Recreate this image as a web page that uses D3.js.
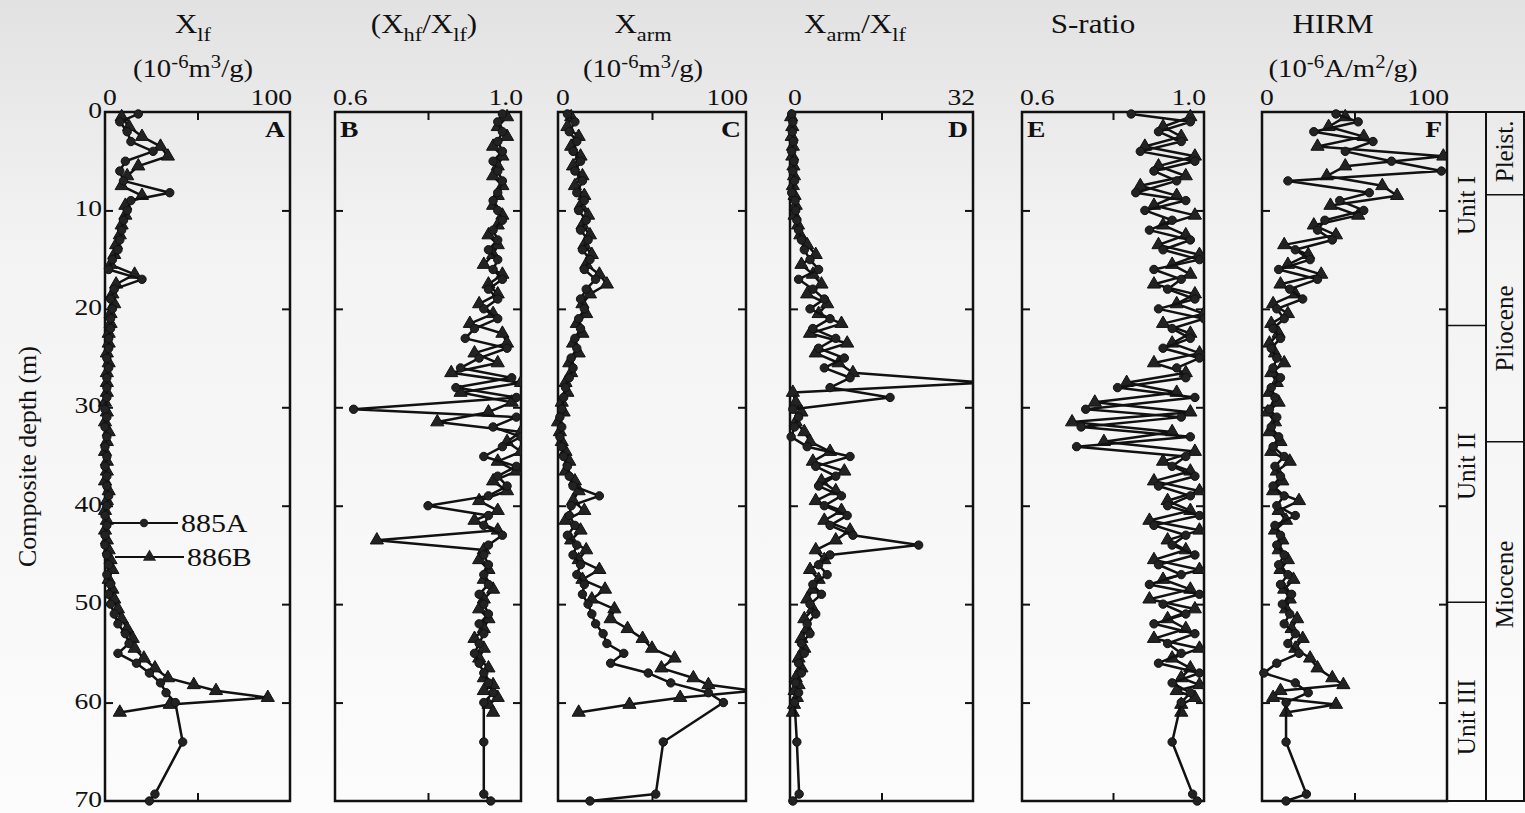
<!DOCTYPE html>
<html>
<head>
<meta charset="utf-8">
<script src="https://cdn.jsdelivr.net/npm/d3@7"></script>
<style>
  body { margin: 0; background: #fff; }
  svg text { font-family: "Liberation Serif", "Times New Roman", serif; fill: #111; }
</style>
</head>
<body>
<svg id="chart" width="1525" height="813"></svg>
<script>
// ---- data (depth in m) ----
var seriesNames = ['885A', '886B'];

var depth885 = [0.2, 1, 2, 3, 4, 5, 6, 7, 8.2, 9,
  10, 11, 12, 13, 14, 15, 16, 17, 18, 19,
  20, 21, 22, 23, 24, 25, 26, 27, 28, 29,
  30.2, 31, 32, 33, 34, 35, 36, 37, 38, 39,
  40, 41, 42, 43, 44, 45, 46, 47, 48, 49,
  50, 51, 52, 53, 54, 55, 56, 57, 58, 59,
  60, 64, 69.3, 70];

var depth886 = [0.5, 1.5, 2.5, 3.5, 4.5, 5.5, 6.5, 7.5, 8.5, 9.5,
  10.5, 11.5, 12.5, 13.5, 14.5, 15.5, 16.5, 17.5, 18.5, 19.5,
  20.5, 21.5, 22.5, 23.5, 24.5, 25.5, 26.5, 27.5, 28.5, 29.5,
  30.5, 31.5, 32.5, 33.5, 34.5, 35.5, 36.5, 37.5, 38.5, 39.5,
  40.5, 41.5, 42.5, 43.5, 44.5, 45.5, 46.5, 47.5, 48.5, 49.5,
  50.5, 51.5, 52.5, 53.5, 54.5, 55.5, 56.5, 57.5, 58.2, 58.8,
  59.5, 60.2, 61];

// A: Xlf
var xlf885 = [18, 8, 12, 14, 26, 11, 8, 10, 35, 14,
  12, 10, 9, 8, 7, 4, 2, 20, 5, 3,
  4, 3, 3, 2, 2, 1, 2, 1, 1, 1,
  0, 1, 0, 1, 0, 1, 0, 1, 1, 2,
  1, 0, 1, 0, 0, 1, 2, 1, 3, 2,
  3, 5, 7, 11, 13, 7, 17, 24, 30, 33,
  38, 42, 27, 24];
var xlf886 = [9, 13, 20, 30, 34, 18, 12, 9, 20, 11,
  11, 9, 8, 6, 5, 3, 16, 6, 4, 5,
  3, 3, 2, 2, 1, 2, 1, 1, 1, 0,
  1, 0, 2, 1, 0, 1, 1, 0, 2, 1,
  0, 1, 0, 1, 2, 3, 4, 2, 4, 5,
  7, 9, 12, 15, 16, 21, 27, 34, 48, 60,
  88, 35, 8];

// B: Xhf/Xlf
var hf885 = [0.96, 0.95, 0.96, 0.95, 0.96, 0.94, 0.95, 0.96, 0.95, 0.94,
  0.95, 0.96, 0.94, 0.95, 0.93, 0.95, 0.94, 0.96, 0.93, 0.95,
  0.92, 0.95, 0.90, 0.88, 0.97, 0.91, 0.87, 0.98, 0.86, 0.99,
  0.64, 0.99, 0.94, 1.0, 0.96, 0.92, 0.99, 0.95, 0.97, 0.93,
  0.80, 0.93, 0.92, 0.96, 0.93, 0.92, 0.93, 0.92, 0.93, 0.91,
  0.92, 0.93, 0.91, 0.92, 0.91, 0.90, 0.91, 0.92, 0.93, 0.94,
  0.92, 0.92, 0.92, 0.935];
var hf886 = [0.97, 0.95, 0.97, 0.94, 0.96, 0.95, 0.94, 0.96, 0.95, 0.94,
  0.96, 0.95, 0.93, 0.95, 0.94, 0.92, 0.96, 0.93, 0.95, 0.91,
  0.94, 0.89, 0.96, 0.97, 0.90, 0.95, 0.85, 1.0, 0.87, 0.98,
  0.93, 0.82, 1.0, 0.97, 1.0, 0.95, 0.99, 0.94, 0.97, 0.91,
  0.95, 0.90, 0.95, 0.69, 0.92, 0.91, 0.93, 0.92, 0.94, 0.92,
  0.91, 0.93, 0.92, 0.90, 0.92, 0.91, 0.93, 0.92, 0.94, 0.92,
  0.95, 0.93, 0.94];

// C: Xarm
var arm885 = [5, 9, 6, 10, 8, 12, 9, 13, 10, 14,
  11, 15, 12, 16, 13, 17, 14, 20, 15, 12,
  14, 11, 12, 9, 10, 7, 8, 6, 4, 3,
  2, 1, 2, 1, 2, 3, 5, 6, 8, 22,
  7, 6, 9, 5, 10, 8, 12, 10, 14, 13,
  16, 18, 20, 24, 26, 35, 28, 48, 60, 80,
  88, 56, 52, 17];
var arm886 = [7, 5, 11, 7, 12, 8, 13, 9, 14, 12,
  16, 13, 17, 14, 18, 15, 22, 26, 17, 13,
  15, 10, 13, 8, 11, 6, 7, 4, 5, 2,
  3, 0, 1, 2, 4, 6, 4, 9, 11, 8,
  14, 4, 12, 7, 15, 11, 22, 13, 25, 18,
  30, 28, 37, 45, 50, 62, 55, 72, 80, 104,
  65, 38, 11];

// D: Xarm/Xlf
var ratio885 = [0.3, 0.5, 0.4, 0.6, 0.3, 0.7, 0.5, 0.8, 0.3, 0.9,
  1.0, 1.2, 1.5, 2.0, 2.5, 3.5, 5.0, 1.5, 4.0, 6.0,
  3.5, 7.0, 4.0, 8.0, 5.0, 9.5, 6.0, 10.5, 7.0, 17.5,
  0.5, 1.5, 0.8, 0.2, 3.0, 10.5, 4.5, 8.0, 5.0, 9.0,
  6.0, 10.0, 7.0, 11.0, 22.5, 7.0, 5.0, 6.5, 4.0, 5.5,
  3.5, 4.5, 3.0, 3.5, 2.0, 2.5, 1.5, 2.0, 1.0, 1.5,
  0.8, 1.2, 1.6, 0.5];
var ratio886 = [0.2, 0.4, 0.3, 0.5, 0.4, 0.6, 0.7, 0.5, 0.8, 1.0,
  0.8, 1.4, 1.8, 3.0, 4.5, 2.0, 4.0, 5.5, 3.0, 6.5,
  5.0, 9.0, 3.5, 10.0, 4.5, 8.5, 11.0, 34, 0.5, 1.0,
  2.0, 1.0, 2.5, 3.5, 7.0, 4.0, 9.5, 5.5, 8.0, 4.5,
  9.0, 6.0, 10.5, 8.0, 4.5, 6.0, 3.5, 5.0, 4.0, 3.0,
  4.0, 2.5, 3.0, 2.0, 2.5, 1.5, 2.0, 1.0, 1.5, 0.8,
  1.2, 0.7, 0.5];

// E: S-ratio
var sratio885 = [0.84, 0.97, 0.90, 0.95, 0.86, 0.98, 0.89, 0.94, 0.85, 0.96,
  0.87, 0.93, 0.88, 0.97, 0.91, 0.99, 0.89, 0.95, 0.92, 0.98,
  0.90, 1.0, 0.93, 0.97, 0.91, 0.99, 0.94, 0.96, 0.81, 0.98,
  0.74, 0.95, 0.73, 0.97, 0.72, 0.96, 0.93, 0.98, 0.90, 0.97,
  0.92, 0.99, 0.89, 0.96, 0.93, 0.98, 0.90, 0.95, 0.88, 0.99,
  0.91, 0.96, 0.89, 0.98, 0.92, 0.95, 0.90, 0.99, 0.93, 0.97,
  0.95, 0.93, 0.975, 0.985];
var sratio886 = [0.97, 0.91, 0.95, 0.87, 0.98, 0.90, 0.96, 0.86, 0.94, 0.89,
  0.98, 0.91, 0.96, 0.90, 0.99, 0.93, 0.97, 0.89, 0.98, 0.94,
  1.0, 0.91, 0.97, 0.93, 0.99, 0.89, 0.96, 0.83, 0.94, 0.76,
  0.97, 0.71, 0.93, 0.78, 0.98, 0.91, 0.97, 0.89, 0.99, 0.92,
  0.97, 0.88, 0.99, 0.92, 0.96, 0.89, 0.99, 0.91, 0.97, 0.88,
  0.98, 0.92, 0.96, 0.89, 0.99, 0.93, 0.97, 0.95, 0.99, 0.94,
  0.98, 0.95, 0.95];

// F: HIRM
var hirm885 = [40, 52, 28, 60, 45, 70, 97, 14, 58, 42,
  55, 34, 30, 38, 18, 26, 9, 30, 15, 22,
  8, 12, 6, 10, 5, 8, 6, 10, 5, 7,
  4, 8, 5, 9, 6, 12, 7, 10, 6, 12,
  8, 18, 7, 10, 8, 12, 9, 14, 10, 16,
  11, 15, 12, 18, 14, 20, 8, 1, 18, 25,
  13, 13, 24, 13];
var hirm886 = [45, 36, 55, 30, 98, 45, 35, 65, 73, 37,
  52, 28, 40, 12, 25, 14, 32, 10, 18, 6,
  14, 5, 9, 4, 7, 12, 5, 8, 4, 9,
  3, 7, 4, 10, 5, 15, 8, 11, 6, 20,
  9, 13, 7, 11, 9, 14, 10, 17, 12, 15,
  13, 19, 16, 22, 18, 26, 30, 38, 44, 10,
  6, 40, 13];

var panelLetters = ['A', 'B', 'C', 'D', 'E', 'F'];
var xDomains = [[0, 100], [0.6, 1.0], [0, 100], [0, 32], [0.6, 1.0], [0, 100]];
var xEndLabels = [['0', '100'], ['0.6', '1.0'], ['0', '100'], ['0', '32'], ['0.6', '1.0'], ['0', '100']];
var values885 = [xlf885, hf885, arm885, ratio885, sratio885, hirm885];
var values886 = [xlf886, hf886, arm886, ratio886, sratio886, hirm886];

var titles = [
  [['X', 'n'], ['lf', 'sub']],
  [['(X', 'n'], ['hf', 'sub'], ['/X', 'n'], ['lf', 'sub'], [')', 'n']],
  [['X', 'n'], ['arm', 'sub']],
  [['X', 'n'], ['arm', 'sub'], ['/X', 'n'], ['lf', 'sub']],
  [['S-ratio', 'n']],
  [['HIRM', 'n']]
];
var unitTitles = [
  [['(10', 'n'], ['-6', 'sup'], ['m', 'n'], ['3', 'sup'], ['/g)', 'n']],
  null,
  [['(10', 'n'], ['-6', 'sup'], ['m', 'n'], ['3', 'sup'], ['/g)', 'n']],
  null,
  null,
  [['(10', 'n'], ['-6', 'sup'], ['A/m', 'n'], ['2', 'sup'], ['/g)', 'n']]
];

var depthTicks = [0, 10, 20, 30, 40, 50, 60, 70];

var unitNames = ['Unit I', 'Unit II', 'Unit III'];
var unitBounds = [21.7, 49.8];
var unitLabelDepth = [9.5, 36, 61.5];
var epochNames = ['Pleist.', 'Pliocene', 'Miocene'];
var epochBounds = [8.4, 33.5];
var epochLabelDepth = [4, 22, 48];

// ---- layout ----
var panelLeft = [105, 335, 558, 790, 1022, 1262];
var panelRight = [290, 521, 746, 973, 1204, 1447];
var titleX = [193, 424, 643, 855, 1093, 1333];
var yTop = 112, yBottom = 801;
var stripMid = 1486, stripRight = 1524;
var sx = 1.15; // scan is stretched sideways

var svg = d3.select('#chart');
var defs = svg.append('defs');
var grad = defs.append('linearGradient').attr('id', 'paper')
  .attr('x1', 0).attr('y1', 0).attr('x2', 0).attr('y2', 1);
grad.append('stop').attr('offset', '0%').attr('stop-color', '#e2e2e2');
grad.append('stop').attr('offset', '30%').attr('stop-color', '#f3f3f3');
grad.append('stop').attr('offset', '100%').attr('stop-color', '#fcfcfc');
svg.append('rect').attr('width', 1525).attr('height', 813).attr('fill', 'url(#paper)');

var y = d3.scaleLinear().domain([0, 70]).range([yTop, yBottom]);

var line = d3.line();
var triangle = d3.symbol().type(d3.symbolTriangle).size(75);

function rich(parent, parts, size, cx, cy) {
  var t = parent.append('text')
    .attr('text-anchor', 'middle')
    .attr('font-size', size)
    .attr('transform', 'translate(' + cx + ',' + cy + ') scale(' + sx + ',1)');
  var shift = 0;
  parts.forEach(function(p) {
    var target = p[1] === 'sub' ? size * 0.28 : (p[1] === 'sup' ? -size * 0.38 : 0);
    t.append('tspan')
      .attr('dy', target - shift)
      .attr('font-size', p[1] === 'n' ? size : size * 0.72)
      .text(p[0]);
    shift = target;
  });
  return t;
}

function cleanAxis(g) {
  g.select('.domain').remove();
  g.selectAll('.tick line').attr('stroke', '#111').attr('stroke-width', 2);
}

panelLetters.forEach(function(letter, i) {
  var x0 = panelLeft[i], x1 = panelRight[i];
  var x = d3.scaleLinear().domain(xDomains[i]).range([x0, x1]);
  var mid = (xDomains[i][0] + xDomains[i][1]) / 2;
  var g = svg.append('g');

  defs.append('clipPath').attr('id', 'clip' + i).append('rect')
    .attr('x', x0 - 14).attr('y', yTop - 10)
    .attr('width', x1 - x0 + 14).attr('height', yBottom - yTop + 20);

  // inward ticks on all four sides
  g.append('g').attr('transform', 'translate(' + x0 + ',0)')
    .call(d3.axisRight(y).tickValues(depthTicks.slice(1, -1)).tickSize(8).tickFormat(''))
    .call(cleanAxis);
  g.append('g').attr('transform', 'translate(' + x1 + ',0)')
    .call(d3.axisLeft(y).tickValues(depthTicks.slice(1, -1)).tickSize(8).tickFormat(''))
    .call(cleanAxis);
  g.append('g').attr('transform', 'translate(0,' + yTop + ')')
    .call(d3.axisBottom(x).tickValues([mid]).tickSize(8).tickFormat(''))
    .call(cleanAxis);
  g.append('g').attr('transform', 'translate(0,' + yBottom + ')')
    .call(d3.axisTop(x).tickValues([mid]).tickSize(8).tickFormat(''))
    .call(cleanAxis);

  g.append('rect')
    .attr('x', x0).attr('y', yTop)
    .attr('width', x1 - x0).attr('height', yBottom - yTop)
    .attr('fill', 'none').attr('stroke', '#111').attr('stroke-width', 2.5);

  // end labels of the value axis
  g.append('text')
    .attr('transform', 'translate(' + (x(xDomains[i][0]) - 2) + ',' + (yTop - 7) + ') scale(' + sx + ',1)')
    .attr('font-size', 24).text(xEndLabels[i][0]);
  g.append('text')
    .attr('text-anchor', 'end')
    .attr('transform', 'translate(' + (x(xDomains[i][1]) + 2) + ',' + (yTop - 7) + ') scale(' + sx + ',1)')
    .attr('font-size', 24).text(xEndLabels[i][1]);

  // titles
  rich(svg, titles[i], 27, titleX[i], 33);
  if (unitTitles[i]) rich(svg, unitTitles[i], 25, titleX[i] + (i === 5 ? 10 : 0), 77);

  // panel letter
  var right = (letter !== 'B' && letter !== 'E');
  g.append('text')
    .attr('text-anchor', right ? 'end' : 'start')
    .attr('font-weight', 'bold')
    .attr('font-size', 24)
    .attr('transform', 'translate(' + (right ? x1 - 5 : x0 + 5) + ',' + (yTop + 25) + ') scale(' + sx + ',1)')
    .text(letter);

  // data
  var plot = g.append('g').attr('clip-path', 'url(#clip' + i + ')');
  var pts886 = depth886.map(function(d, k) { return [x(values886[i][k]), y(d)]; });
  var pts885 = depth885.map(function(d, k) { return [x(values885[i][k]), y(d)]; });

  plot.append('path').attr('d', line(pts886))
    .attr('fill', 'none').attr('stroke', '#111').attr('stroke-width', 2.5)
    .attr('stroke-linejoin', 'round');
  plot.selectAll('.tri').data(pts886).enter().append('path')
    .attr('class', 'tri')
    .attr('d', triangle)
    .attr('transform', function(p) { return 'translate(' + p[0] + ',' + p[1] + ')'; })
    .attr('fill', '#222').attr('stroke', '#111').attr('stroke-width', 1);

  plot.append('path').attr('d', line(pts885))
    .attr('fill', 'none').attr('stroke', '#111').attr('stroke-width', 2.5)
    .attr('stroke-linejoin', 'round');
  plot.selectAll('.dot').data(pts885).enter().append('circle')
    .attr('class', 'dot')
    .attr('cx', function(p) { return p[0]; })
    .attr('cy', function(p) { return p[1]; })
    .attr('r', 4.2)
    .attr('fill', '#222').attr('stroke', '#111').attr('stroke-width', 1);
});

// depth labels on panel A
svg.append('g').selectAll('text').data(depthTicks).enter().append('text')
  .attr('text-anchor', 'end')
  .attr('font-size', 24)
  .attr('transform', function(d) {
    return 'translate(' + (panelLeft[0] - 3) + ',' + (y(d) + 6) + ') scale(' + sx + ',1)';
  })
  .text(String);

svg.append('text')
  .attr('text-anchor', 'middle')
  .attr('font-size', 26)
  .attr('transform', 'translate(36,' + ((yTop + yBottom) / 2) + ') rotate(-90)')
  .text('Composite depth (m)');

// legend inside panel A
var legend = svg.append('g');
[0, 1].forEach(function(k) {
  var ly = 523 + k * 34;
  var lx0 = 110 + k * 5, lx1 = 178 + k * 6;
  legend.append('line')
    .attr('x1', lx0).attr('x2', lx1).attr('y1', ly).attr('y2', ly)
    .attr('stroke', '#111').attr('stroke-width', 2);
  if (k === 0) {
    legend.append('circle').attr('cx', (lx0 + lx1) / 2).attr('cy', ly).attr('r', 4.2).attr('fill', '#222');
  } else {
    legend.append('path').attr('d', triangle)
      .attr('transform', 'translate(' + ((lx0 + lx1) / 2) + ',' + ly + ')').attr('fill', '#222');
  }
  legend.append('text')
    .attr('font-size', 26)
    .attr('transform', 'translate(' + (lx1 + 3) + ',' + (ly + 9) + ') scale(' + sx + ',1)')
    .text(seriesNames[k]);
});

// stratigraphic strip on the right
var x1F = panelRight[5];
var strip = svg.append('g');
strip.append('rect')
  .attr('x', x1F).attr('y', yTop)
  .attr('width', stripRight - x1F).attr('height', yBottom - yTop)
  .attr('fill', 'none').attr('stroke', '#111').attr('stroke-width', 2);
strip.append('line')
  .attr('x1', stripMid).attr('x2', stripMid).attr('y1', yTop).attr('y2', yBottom)
  .attr('stroke', '#111').attr('stroke-width', 2);
strip.selectAll('.ub').data(unitBounds).enter().append('line')
  .attr('x1', x1F).attr('x2', stripMid)
  .attr('y1', function(d) { return y(d); }).attr('y2', function(d) { return y(d); })
  .attr('stroke', '#111').attr('stroke-width', 1.5);
strip.selectAll('.eb').data(epochBounds).enter().append('line')
  .attr('x1', stripMid).attr('x2', stripRight)
  .attr('y1', function(d) { return y(d); }).attr('y2', function(d) { return y(d); })
  .attr('stroke', '#111').attr('stroke-width', 1.5);
strip.selectAll('.un').data(unitNames).enter().append('text')
  .attr('text-anchor', 'middle')
  .attr('font-size', 25)
  .attr('transform', function(d, k) {
    return 'translate(' + ((x1F + stripMid) / 2 + 8) + ',' + y(unitLabelDepth[k]) + ') rotate(-90)';
  })
  .text(String);
strip.selectAll('.en').data(epochNames).enter().append('text')
  .attr('text-anchor', 'middle')
  .attr('font-size', 25)
  .attr('transform', function(d, k) {
    return 'translate(' + ((stripMid + stripRight) / 2 + 8) + ',' + y(epochLabelDepth[k]) + ') rotate(-90)';
  })
  .text(String);
</script>
</body>
</html>
